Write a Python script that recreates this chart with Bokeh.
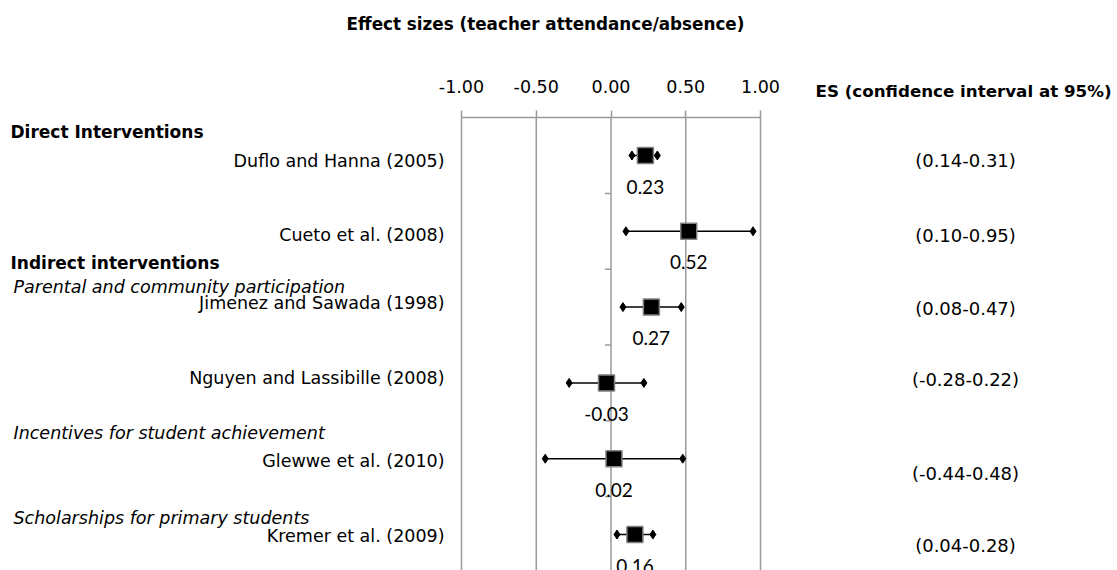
import numpy as np
from bokeh.plotting import figure
from bokeh.models import Range1d, FixedTicker, PrintfTickFormatter, ColumnDataSource
from bokeh.core.properties import value
from bokeh.embed import file_html
from bokeh.resources import INLINE

# ---------------- data ----------------
studies = ["Duflo and Hanna (2005)", "Cueto et al. (2008)", "Jimenez and Sawada (1998)",
           "Nguyen and Lassibille (2008)", "Glewwe et al. (2010)", "Kremer et al. (2009)"]
effect_sizes = [0.23, 0.52, 0.27, -0.03, 0.02, 0.16]
ci_low = [0.14, 0.10, 0.08, -0.28, -0.44, 0.04]
ci_high = [0.31, 0.95, 0.47, 0.22, 0.48, 0.28]
x_ticks = [-1.0, -0.5, 0.0, 0.5, 1.0]
group_labels = ["Direct Interventions", "Indirect interventions",
                "Parental and community participation",
                "Incentives for student achievement",
                "Scholarships for primary students"]
group_above_study = [0, 2, 2, 4, 5]
title_text = "Effect sizes (teacher attendance/absence)"
ci_header = "ES (confidence interval at 95%)"

# ---------------- layout (pixels, page coordinates) ----------------
W, H = 1117, 570
PX_PER_X = 149.5
X_AT_MINUS1 = 461
ROW_PX = 75.8
FIRST_ROW_PX = 155
AXIS_PX = 117
GRAY = "#9a9a9a"
TXT = "DejaVu Sans"

x0 = -1 - X_AT_MINUS1 / PX_PER_X
x1 = x0 + W / PX_PER_X
n = len(studies)
rows = [n - i for i in range(n)]
y1 = rows[0] + FIRST_ROW_PX / ROW_PX
y0 = y1 - H / ROW_PX


def fx(px):
    return x0 + px / PX_PER_X


def fy(py):
    return y1 - py / ROW_PX


p = figure(width=W, height=H, x_range=Range1d(x0, x1), y_range=Range1d(y0, y1),
           x_axis_location="above", y_axis_location=None,
           output_backend="svg", toolbar_location=None,
           min_border_left=0, min_border_right=0, min_border_bottom=0,
           min_border_top=0)
p.outline_line_color = None
p.background_fill_color = "white"
p.border_fill_color = "white"
p.xgrid.grid_line_color = None
p.ygrid.grid_line_color = None

ax = p.xaxis[0]
ax.fixed_location = fy(AXIS_PX)
ax.ticker = FixedTicker(ticks=x_ticks)
ax.formatter = PrintfTickFormatter(format="%.2f")
ax.bounds = (min(x_ticks), max(x_ticks))
ax.axis_line_color = GRAY
ax.axis_line_width = 1.5
ax.major_tick_line_color = GRAY
ax.major_tick_line_width = 1.5
ax.major_tick_out = 7
ax.major_tick_in = 0
ax.minor_tick_out = 0
ax.minor_tick_in = 0
ax.major_label_standoff = 18
ax.major_label_text_font = TXT
ax.major_label_text_font_size = "17.5px"
ax.major_label_text_color = "black"

# vertical grid lines below the axis
p.segment(x0=x_ticks, y0=[fy(AXIS_PX)] * len(x_ticks), x1=x_ticks, y1=[y0] * len(x_ticks),
          line_color=GRAY, line_width=1.5)

# small ticks on the vertical axis at x = 0, between rows
mids = [r + 0.5 for r in rows[1:]]
p.ray(x=[0] * len(mids), y=mids, length=6, length_units="screen", angle=np.pi,
      line_color=GRAY, line_width=1.5)

src = ColumnDataSource(dict(
    study=studies, es=effect_sizes, lo=ci_low, hi=ci_high, y=rows,
    es_txt=[f"{v:.2f}" for v in effect_sizes],
    ci_txt=[f"({a:.2f}-{b:.2f})" for a, b in zip(ci_low, ci_high)],
))

p.segment(x0="lo", y0="y", x1="hi", y1="y", source=src, line_color="black", line_width=1.5)
p.scatter(x="lo", y="y", source=src, marker="diamond", size=9, color="black")
p.scatter(x="hi", y="y", source=src, marker="diamond", size=9, color="black")
p.scatter(x="es", y="y", source=src, marker="square", size=16, fill_color="black",
          line_color="#808080", line_width=1.5)

p.text(x="es", y="y", text="es_txt", source=src, y_offset=31,
       text_align="center", text_baseline="middle",
       text_font=value("Lato"), text_font_size=value("19px"), text_color="black")

# study labels (left)
study_dy = [5, 4, -4, -5, 2, 1]
p.text(x=[fx(444)] * n, y=rows, text=studies, y_offset=study_dy,
       text_align="right", text_baseline="middle",
       text_font=value(TXT), text_font_size=value("17.5px"), text_color="black")

# CI labels (right)
ci_dy = [5, 4, 1, -3, 15, 11]
p.text(x=[fx(965)] * n, y=rows, text=src.data["ci_txt"], y_offset=ci_dy,
       text_align="center", text_baseline="middle",
       text_font=value(TXT), text_font_size=value("18px"), text_color="black")

# group labels
group_dy = [-24, -44, -20, -26, -17]
group_x = [10, 10, 13, 13, 13]
group_style = ["bold", "bold", "italic", "italic", "italic"]
group_size = ["17px", "17px", "17.5px", "17.5px", "17.5px"]
for lab, k, dy, gx, st, sz in zip(group_labels, group_above_study, group_dy,
                                  group_x, group_style, group_size):
    p.text(x=[fx(gx)], y=[rows[k]], text=[lab], y_offset=dy,
           text_align="left", text_baseline="middle",
           text_font=value(TXT), text_font_size=value(sz),
           text_font_style=st, text_color="black")

# headers
p.text(x=[fx(545)], y=[fy(23)], text=[title_text], text_align="center",
       text_baseline="middle", text_font=value(TXT), text_font_size=value("16.8px"),
       text_font_style="bold", text_color="black")
p.text(x=[fx(815)], y=[fy(90)], text=[ci_header], text_align="left",
       text_baseline="middle", text_font=value(TXT), text_font_size=value("16.7px"),
       text_font_style="bold", text_color="black")

open("out.html", "w").write(file_html(p, INLINE))
